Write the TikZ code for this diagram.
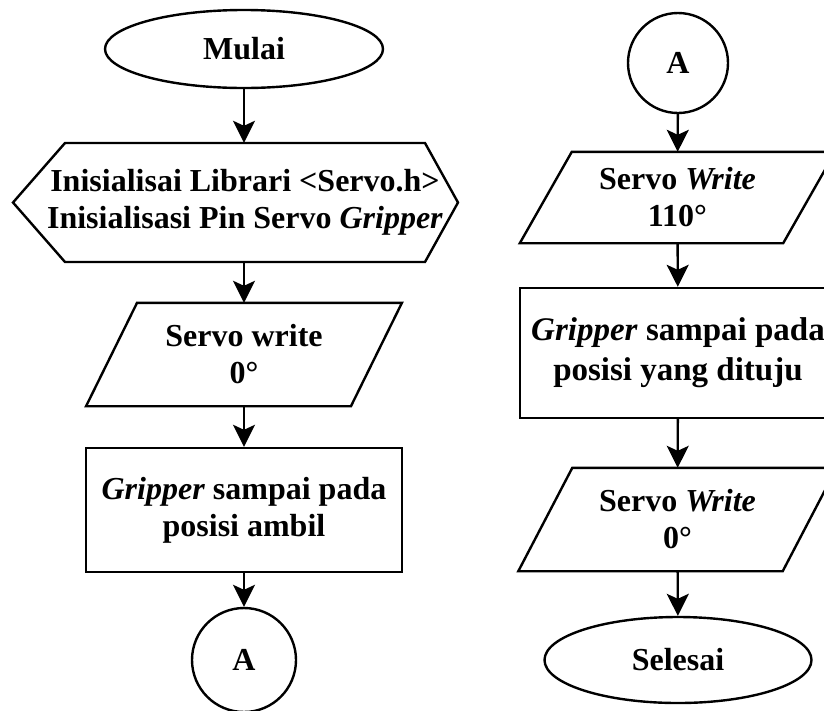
\documentclass[tikz,border=0pt]{standalone}
\usepackage{fontspec}
\setmainfont{Liberation Serif}
\usetikzlibrary{arrows.meta,shapes.geometric,calc}
\definecolor{figline}{RGB}{0,0,0}
\tikzset{
  txt/.style  ={align=center, font=\fontsize{32}{37}\selectfont\bfseries},
  fl/.style   ={draw=figline, line width=2.4pt, line join=miter},
  term/.style ={fl, txt, ellipse, inner sep=0pt},
  conn/.style ={fl, txt, circle, inner sep=0pt},
  proc/.style ={fl, txt, rectangle, minimum width=316pt},
  io/.style   ={txt, rectangle, inner sep=0pt},
  ar/.style   ={draw=figline, line width=2.4pt, -{Stealth[length=22pt,width=22pt,inset=5pt]}},
}
\begin{document}
\begin{tikzpicture}[x=1pt,y=-1pt]
  \clip (0,0) rectangle (824,710);
  % left column
  \node[term, minimum width=278pt, minimum height=78pt] (mulai) at (244,49) {Mulai};
  \node[txt, inner sep=0pt, minimum height=119pt] (init) at (245,202.5)
    {Inisialisai Librari <Servo.h>\\Inisialisasi Pin Servo \textit{Gripper}};
  \draw[fl] ($(init.center)+(-180,-59.5)$) -- ($(init.center)+(180,-59.5)$) -- ($(init.center)+(213,0)$)
    -- ($(init.center)+(180,59.5)$) -- ($(init.center)+(-180,59.5)$) -- ($(init.center)+(-232,0)$) -- cycle;
  \node[io, minimum width=264.5pt, minimum height=103pt] (wzero) at (244,354.5) {Servo write\\0°};
  \draw[fl] ([xshift=25.5pt]wzero.north west) -- ([xshift=25.5pt]wzero.north east)
    -- ([xshift=-25.5pt]wzero.south east) -- ([xshift=-25.5pt]wzero.south west) -- cycle;
  \node[proc, minimum height=124pt] (pick) at (244,510) {\textit{Gripper} sampai pada\\posisi ambil};
  \node[conn, minimum size=104pt] (conA) at (244,660) {A};
  % right column
  \node[conn, minimum size=100pt] (conB) at (678,63) {A};
  \node[io, minimum width=263pt, minimum height=91pt] (wmax) at (677.5,197.5) {Servo \textit{Write}\\110°};
  \draw[fl] ([xshift=26pt]wmax.north west) -- ([xshift=26pt]wmax.north east)
    -- ([xshift=-26pt]wmax.south east) -- ([xshift=-26pt]wmax.south west) -- cycle;
  \node[proc, minimum height=130pt, font=\fontsize{33}{40}\selectfont\bfseries] (reach) at (678,353) {\textit{Gripper} sampai pada\\posisi yang dituju};
  \node[io, minimum width=264pt, minimum height=103pt] (wback) at (677.5,519.5) {Servo \textit{Write}\\0°};
  \draw[fl] ([xshift=27pt]wback.north west) -- ([xshift=27pt]wback.north east)
    -- ([xshift=-27pt]wback.south east) -- ([xshift=-27pt]wback.south west) -- cycle;
  \node[term, minimum width=267pt, minimum height=86pt] (selesai) at (678,660) {Selesai};
  % connectors
  \draw[ar] (mulai) -- (mulai |- init.north);
  \draw[ar] (init.south -| wzero) -- (wzero);
  \draw[ar] (wzero) -- (pick);
  \draw[ar] (pick) -- (conA);
  \draw[ar] (conB) -- (wmax);
  \draw[ar] (wmax) -- (reach);
  \draw[ar] (reach) -- (wback);
  \draw[ar] (wback) -- (selesai);
\end{tikzpicture}
\end{document}
